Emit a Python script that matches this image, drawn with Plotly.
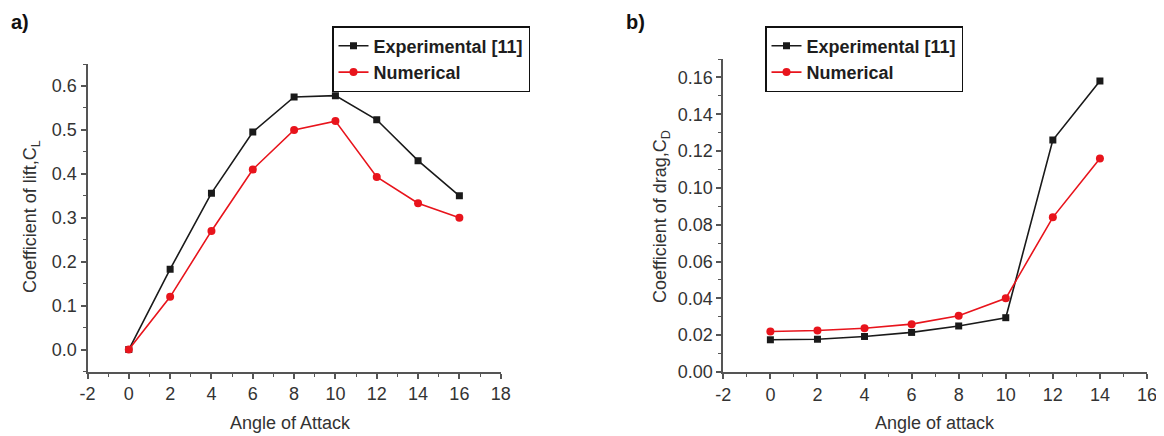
import plotly.graph_objects as go

# ---- data ----
aoa_lift = [0, 2, 4, 6, 8, 10, 12, 14, 16]
cl_exp = [0.0, 0.183, 0.356, 0.495, 0.575, 0.578, 0.523, 0.430, 0.350]
cl_num = [0.0, 0.120, 0.270, 0.410, 0.500, 0.520, 0.393, 0.333, 0.300]

aoa_drag = [0, 2, 4, 6, 8, 10, 12, 14]
cd_exp = [0.0175, 0.0178, 0.0193, 0.0215, 0.0250, 0.0295, 0.1260, 0.1580]
cd_num = [0.0220, 0.0225, 0.0238, 0.0260, 0.0305, 0.0400, 0.0840, 0.1160]

# tick labels
x_ticks_lift = [-2, 0, 2, 4, 6, 8, 10, 12, 14, 16, 18]
x_ticks_drag = [-2, 0, 2, 4, 6, 8, 10, 12, 14, 16]

W, H = 1164, 436
OFF = 8  # page body margin in the browser
FONT = "Liberation Sans, Arial, sans-serif"
TXT = "#333333"
BLACK = "#1a1a1a"
RED = "#e8141c"
AX = "#555555"


def px(x):
    return (x - OFF) / W


def py(y):
    return (H - (y - OFF)) / H


fig = go.Figure()


def add_pair(x, ye, yn, xa, ya, leg):
    fig.add_trace(go.Scatter(x=x, y=ye, mode="lines+markers", name="Experimental [11]",
                             line=dict(color=BLACK, width=1.6),
                             marker=dict(symbol="square", size=7, color=BLACK),
                             xaxis=xa, yaxis=ya, legend=leg))
    fig.add_trace(go.Scatter(x=x, y=yn, mode="lines+markers", name="Numerical",
                             line=dict(color=RED, width=1.6),
                             marker=dict(symbol="circle", size=8, color=RED),
                             xaxis=xa, yaxis=ya, legend=leg))


add_pair(aoa_lift, cl_exp, cl_num, "x", "y", "legend")
add_pair(aoa_drag, cd_exp, cd_num, "x2", "y2", "legend2")

axis_common = dict(showline=True, linecolor=AX, linewidth=2, ticks="outside",
                   ticklen=5, tickwidth=1.5, tickcolor=AX, showgrid=False,
                   zeroline=False, automargin=False,
                   tickfont=dict(family=FONT, size=18, color=TXT))
minor_common = dict(ticks="outside", ticklen=3, tickwidth=1.2, tickcolor=AX)

# screen-pixel positions of plot areas
L_X0, L_X1, L_Y0, L_Y1 = 87.5, 500.7, 64, 371.5
R_X0, R_X1, R_Y0, R_Y1 = 723.3, 1147, 59, 372

legend_common = dict(xanchor="left", yanchor="top", bordercolor="#111111", borderwidth=1.5,
                     bgcolor="white", itemwidth=30, tracegroupgap=0,
                     font=dict(family=FONT, size=18, color="#1e1e1e", weight="bold"))

fig.update_layout(
    width=W, height=H, margin=dict(l=0, r=0, t=0, b=0, autoexpand=False),
    paper_bgcolor="white", plot_bgcolor="white",
    xaxis=dict(domain=[px(L_X0), px(L_X1)], range=[-2, 18], anchor="y",
               tickmode="array", tickvals=x_ticks_lift, ticktext=[str(v) for v in x_ticks_lift],
               minor=dict(dtick=1, **minor_common), **axis_common),
    yaxis=dict(domain=[py(L_Y1), py(L_Y0)], range=[-0.05, 0.65], dtick=0.1,
               tickformat=".1f", anchor="x",
               minor=dict(dtick=0.05, **minor_common), **axis_common),
    xaxis2=dict(domain=[px(R_X0), px(R_X1)], range=[-2, 16], anchor="y2",
                tickmode="array", tickvals=x_ticks_drag, ticktext=[str(v) for v in x_ticks_drag],
                minor=dict(dtick=1, **minor_common), **axis_common),
    yaxis2=dict(domain=[py(R_Y1), py(R_Y0)], range=[0, 0.17], dtick=0.02,
                tickformat=".2f", anchor="x2",
                minor=dict(dtick=0.01, **minor_common), **axis_common),
    legend=dict(x=px(332), y=py(26), **legend_common),
    legend2=dict(x=px(765), y=py(26), **legend_common),
)

title_font = dict(family=FONT, size=18, color=TXT)

for txt, x, y in [("<b>a)</b>", 9, 22), ("<b>b)</b>", 624, 22)]:
    fig.add_annotation(text=txt, x=px(x), y=py(y), xref="paper", yref="paper",
                       xanchor="left", yanchor="middle", showarrow=False,
                       font=dict(family=FONT, size=20, color="#111111"))

# axis titles
fig.add_annotation(text="Angle of Attack", x=px(290), y=py(423), xref="paper", yref="paper",
                   xanchor="center", yanchor="middle", showarrow=False, font=title_font)
fig.add_annotation(text="Angle of attack", x=px(935), y=py(423), xref="paper", yref="paper",
                   xanchor="center", yanchor="middle", showarrow=False, font=title_font)
fig.add_annotation(text="Coefficient of lift,C<sub>L</sub>", x=px(32), y=py(217),
                   xref="paper", yref="paper", xanchor="center", yanchor="middle",
                   textangle=-90, showarrow=False, font=title_font)
fig.add_annotation(text="Coefficient of drag,C<sub>D</sub>", x=px(662), y=py(217),
                   xref="paper", yref="paper", xanchor="center", yanchor="middle",
                   textangle=-90, showarrow=False, font=title_font)

fig.write_html("out.html")
